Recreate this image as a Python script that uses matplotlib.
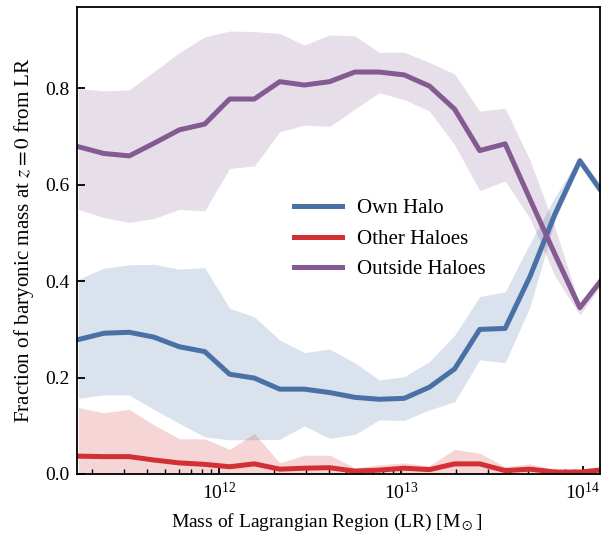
import numpy as np
import matplotlib
matplotlib.use("Agg")
import matplotlib.pyplot as plt

plt.rcParams['font.family'] = ['Liberation Serif', 'DejaVu Serif']
plt.rcParams['mathtext.fontset'] = 'stix'
plt.rcParams['font.size'] = 14

# log10 of the Lagrangian region mass at the bin centres
log_mass = [11.225, 11.365, 11.505, 11.640, 11.780, 11.920, 12.057, 12.193,
            12.333, 12.468, 12.607, 12.746, 12.880, 13.018, 13.156, 13.295,
            13.433, 13.573, 13.710, 13.848, 13.984, 14.118]

# median fraction and 16-84 percentile band for each destination
own_halo = [0.279, 0.292, 0.294, 0.284, 0.264, 0.254, 0.207, 0.199, 0.176, 0.176, 0.169,
            0.159, 0.155, 0.157, 0.180, 0.218, 0.300, 0.302, 0.410, 0.540, 0.650, 0.578]
own_halo_lo = [0.157, 0.164, 0.164, 0.134, 0.105, 0.077, 0.071, 0.071, 0.072, 0.100, 0.074,
               0.082, 0.112, 0.111, 0.133, 0.150, 0.237, 0.231, 0.347, 0.527, 0.640, 0.570]
own_halo_hi = [0.404, 0.427, 0.434, 0.435, 0.425, 0.428, 0.344, 0.326, 0.278, 0.252, 0.259,
               0.231, 0.195, 0.202, 0.233, 0.288, 0.368, 0.378, 0.479, 0.575, 0.658, 0.590]

other_haloes = [0.037, 0.036, 0.036, 0.029, 0.023, 0.020, 0.015, 0.021, 0.010, 0.012, 0.013,
                0.006, 0.008, 0.012, 0.009, 0.021, 0.021, 0.007, 0.010, 0.004, 0.004, 0.009]
other_haloes_lo = [0.0] * 22
other_haloes_hi = [0.138, 0.127, 0.134, 0.102, 0.073, 0.073, 0.051, 0.084, 0.023, 0.039, 0.039,
                   0.013, 0.019, 0.023, 0.017, 0.051, 0.043, 0.015, 0.021, 0.009, 0.009, 0.015]

outside_haloes = [0.679, 0.665, 0.660, 0.686, 0.714, 0.726, 0.778, 0.778, 0.814, 0.807, 0.814,
                  0.834, 0.834, 0.828, 0.805, 0.757, 0.671, 0.685, 0.570, 0.455, 0.345, 0.410]
outside_haloes_lo = [0.549, 0.532, 0.522, 0.530, 0.549, 0.546, 0.634, 0.639, 0.710, 0.724, 0.721,
                     0.757, 0.791, 0.777, 0.753, 0.683, 0.588, 0.608, 0.530, 0.410, 0.330, 0.400]
outside_haloes_hi = [0.800, 0.795, 0.797, 0.835, 0.874, 0.907, 0.919, 0.918, 0.914, 0.890, 0.911,
                     0.909, 0.875, 0.875, 0.854, 0.830, 0.753, 0.759, 0.651, 0.510, 0.350, 0.420]

mass = 10 ** np.array(log_mass)

series = [
    ('Own Halo', own_halo, own_halo_lo, own_halo_hi, '#4a71a5'),
    ('Other Haloes', other_haloes, other_haloes_lo, other_haloes_hi, '#d33035'),
    ('Outside Haloes', outside_haloes, outside_haloes_lo, outside_haloes_hi, '#845a92'),
]

fig = plt.figure(figsize=(6.02, 5.36), dpi=100)
ax = fig.add_axes([0.1287, 0.1157, 0.868, 0.8713])

# shaded scatter first, medians drawn over all bands
for label, med, lo, hi, color in series:
    ax.fill_between(mass, lo, hi, color=color, alpha=0.2, lw=0)
for label, med, lo, hi, color in series:
    ax.plot(mass, med, color=color, lw=3.6, label=label)

ax.set_xscale('log')
ax.set_xlim(10 ** 11.22, 10 ** 14.095)
ax.set_ylim(0, 0.969)
ax.set_yticks([0.0, 0.2, 0.4, 0.6, 0.8])

ax.tick_params(which='major', direction='in', length=6, width=1.3, pad=6)
ax.tick_params(which='minor', direction='in', length=3.5, width=1.0)
for s in ax.spines.values():
    s.set_linewidth(1.3)

ax.set_xlabel(r'Mass of Lagrangian Region (LR) [M$_\odot$]', labelpad=6, x=0.4775)
ax.set_ylabel(r'Fraction of baryonic mass at $z = 0$ from LR', fontsize=15.2, labelpad=6)

ax.legend(loc='center left', bbox_to_anchor=(0.414, 0.503), frameon=False, fontsize=15,
          handlelength=2.3, handletextpad=0.74, labelspacing=0.52,
          borderpad=0, borderaxespad=0)

fig.savefig('out.png', dpi=100)
